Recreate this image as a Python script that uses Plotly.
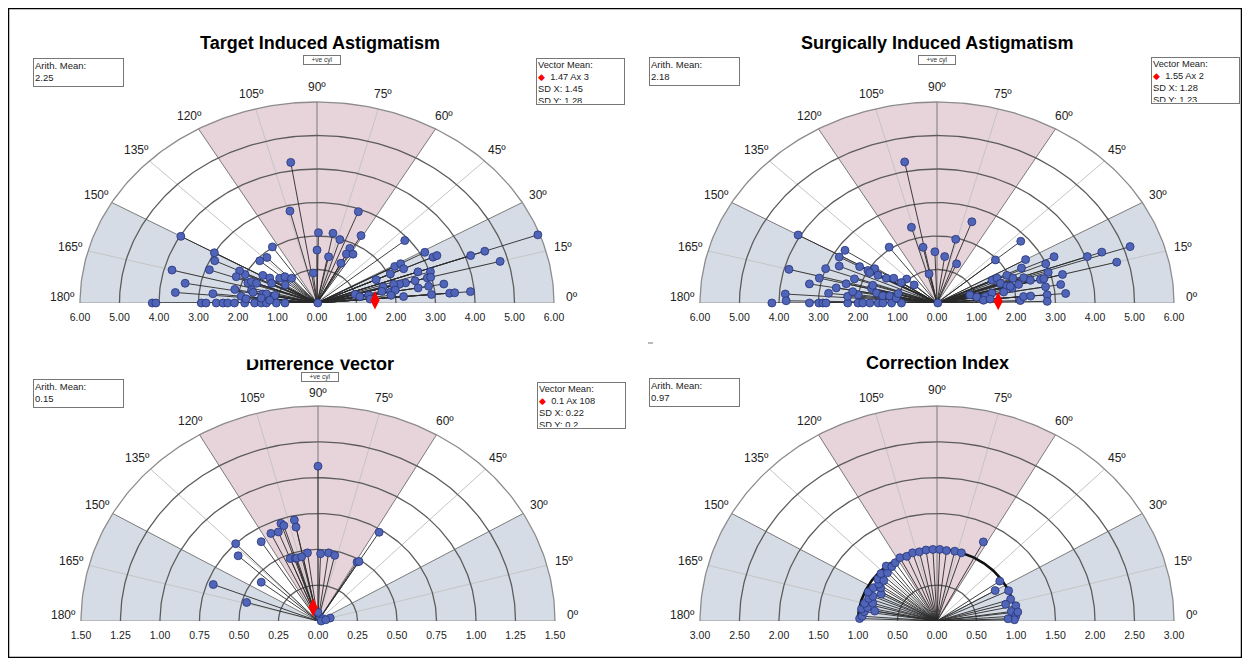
import numpy as np
import plotly.graph_objects as go

# page is 1250x666; the browser body has an 8px margin, so the figure is 1234x650
OFF = 8
FW, FH = 1234, 650

# ---------------- data ----------------
titles = ["Target Induced Astigmatism", "Surgically Induced Astigmatism",
          "Difference Vector", "Correction Index"]
arith_means = ["2.25", "2.18", "0.15", "0.97"]
vec_mean_text = ["1.47 Ax 3", "1.55 Ax 2", "0.1 Ax 108", None]
sd_x_text = ["1.45", "1.28", "0.22", None]
sd_y_text = ["1.28", "1.23", "0.2", None]
vm_mag = [1.47, 1.55, 0.1, None]
vm_axis = [3, 2, 108, None]

angle_vals = [0, 15, 30, 45, 60, 75, 90, 105, 120, 135, 150, 165, 180]
angle_text = ["0º", "15º", "30º", "45º", "60º", "75º", "90º", "105º", "120º",
              "135º", "150º", "165º", "180º"]

ticks_6 = [-6, -5, -4, -3, -2, -1, 0, 1, 2, 3, 4, 5, 6]
labels_6 = ["6.00", "5.00", "4.00", "3.00", "2.00", "1.00", "0.00",
            "1.00", "2.00", "3.00", "4.00", "5.00", "6.00"]
ticks_15 = [-1.5, -1.25, -1.0, -0.75, -0.5, -0.25, 0, 0.25, 0.5, 0.75, 1.0, 1.25, 1.5]
labels_15 = ["1.50", "1.25", "1.00", "0.75", "0.50", "0.25", "0.00",
             "0.25", "0.50", "0.75", "1.00", "1.25", "1.50"]
ticks_3 = [-3, -2.5, -2, -1.5, -1, -0.5, 0, 0.5, 1, 1.5, 2, 2.5, 3]
labels_3 = ["3.00", "2.50", "2.00", "1.50", "1.00", "0.50", "0.00",
            "0.50", "1.00", "1.50", "2.00", "2.50", "3.00"]

# Target induced astigmatism: magnitude (D) and axis (deg)
tia_mag = [4.25, 2.83, 2.10, 1.58, 0.90, 2.02, 3.98, 3.00, 2.88, 2.90, 3.80, 3.39, 3.60,
           4.17, 4.08, 2.93, 2.81, 2.55, 2.38, 2.26, 2.09, 1.83, 1.58, 1.41, 1.28, 1.03,
           0.81, 2.01, 2.18, 2.19, 2.12, 2.65, 1.92, 1.86, 1.85, 1.78, 1.64, 1.60, 1.41,
           1.20, 1.13, 0.98, 0.97, 1.29, 1.70, 1.65, 1.40, 1.31, 1.09, 1.93, 1.80, 1.42,
           1.20,
           2.92, 2.12, 1.98, 2.30, 1.41, 1.83, 1.64, 1.72, 1.33, 2.90, 2.25, 2.42, 2.42,
           2.05, 3.12, 3.24, 3.35, 4.14, 4.52, 5.95, 4.80, 2.72, 3.02, 2.89, 2.98, 2.57,
           2.32, 2.16, 2.02, 1.65, 1.74, 1.89, 2.02, 2.60, 2.87, 3.26, 2.91, 3.37, 3.50,
           3.90, 1.00, 1.10, 1.33, 1.35, 1.68, 1.89, 2.20, 0.02]
tia_axis = [99, 104, 89, 90, 96, 124, 150, 150, 154, 160, 165, 170, 175,
            180, 180, 180, 180, 180, 180, 180, 180, 180, 180, 180, 180, 180,
            180, 155, 154, 159, 169, 174, 139, 133, 161, 159, 159, 149, 148,
            142, 136, 131, 146, 153, 167, 169, 169, 168, 168, 174, 176, 174,
            176,
            69, 79, 73, 61, 78, 63, 63, 58, 63, 40, 29, 29, 25,
            25, 29, 25, 25, 20, 20, 20, 15, 20, 18, 15, 15, 15,
            15, 15, 16, 25, 16, 10, 11, 10, 10, 10, 5, 5, 5,
            5, 15, 10, 10, 5, 12, 7, 5, 0]

# Surgically induced astigmatism
sia_mag = [4.29, 2.35, 1.70, 1.53, 0.89, 2.06, 4.06, 2.81, 2.83, 2.71, 2.24, 2.00, 1.88,
           1.93, 1.71, 3.88, 3.00, 3.07, 3.28, 3.85, 3.82, 4.18, 3.23, 2.99, 2.89, 2.81,
           2.26, 2.00, 1.88, 1.70, 1.49, 1.37, 1.15, 0.90, 2.76, 2.59, 2.37, 2.21, 2.27,
           2.01, 2.16, 1.72, 1.71, 1.56, 1.39, 1.22, 1.04, 1.48, 1.32, 1.05, 1.09, 0.79,
           1.02,
           2.58, 1.96, 1.40, 1.27, 2.81, 1.96, 2.59, 3.27, 2.99, 4.05, 4.44, 5.17, 4.71,
           2.38, 2.96, 3.29, 1.95, 2.06, 2.32, 2.46, 2.71, 2.80, 1.55, 1.69, 1.71, 1.84,
           1.95, 2.14, 2.79, 3.18, 3.27, 2.80, 2.79, 0.87, 1.02, 1.24, 1.18, 1.42, 1.35,
           1.72, 1.92, 2.11, 2.20, 2.38, 0.02]
sia_axis = [101, 106, 102, 92, 103, 126, 150, 146, 151, 156, 151, 151, 147,
            152, 151, 165, 160, 166, 170, 176, 179, 180, 180, 180, 180, 180,
            180, 180, 180, 180, 180, 180, 180, 180, 174, 170, 166, 161, 175,
            173, 171, 165, 162, 169, 171, 170, 172, 150, 146, 137, 146, 137,
            164,
            70, 76, 82, 67, 41, 41, 30, 25, 23, 20, 20, 19, 15,
            26, 18, 15, 25, 21, 19, 16, 15, 15, 26, 26, 20, 16,
            13, 15, 10, 10, 5, 5, 1, 16, 10, 9, 4, 12, 5,
            11, 15, 2, 5, 5, 0]

# Difference vector
dv_mag = [1.08, 0.72, 0.72, 0.70, 0.67, 0.68, 0.67, 0.75, 0.66, 0.68, 0.48, 0.47, 0.46,
          0.46, 0.46, 0.47, 0.48, 0.47, 0.73, 0.48, 0.49, 0.45, 0.71, 0.47, 0.025, 0.035,
          0.08, 0.06, 0.02, 0.05]
dv_axis = [90, 102, 109, 108, 102, 116, 112, 134, 123, 138, 98, 112, 108,
           107, 103, 88, 82, 77, 58, 59, 58, 143, 159, 164, 60, 27,
           15, 90, 0, 10]

# Correction index
ci_mag = [0.98, 0.95, 0.93, 0.97, 0.90, 0.95, 0.85, 0.92, 0.88, 0.96, 0.80, 0.93, 0.85,
          0.90, 0.95, 0.88, 0.97, 0.92, 1.00, 0.95, 0.97, 1.00, 0.98, 1.00, 0.99, 1.00,
          1.00, 1.00, 0.99, 1.00, 1.00, 1.25, 0.97, 1.00, 0.98, 1.02, 0.95, 1.00, 0.98,
          0.90, 1.03, 0.85, 0.90, 0.80]
ci_axis = [178, 176, 172, 170, 168, 165, 163, 160, 157, 155, 152, 150, 147,
           145, 142, 140, 137, 133, 130, 127, 123, 118, 113, 108, 103, 98,
           93, 88, 83, 77, 72, 62, 35, 25, 18, 12, 8, 4, 1,
           2, 7, 30, 15, 170]

# ---------------- layout (page pixel coordinates) ----------------
panels = [
    dict(mag=tia_mag, axis=tia_axis, R=6.0, ticks=ticks_6, labels=labels_6, cx=317, cy=303, vr=201),
    dict(mag=sia_mag, axis=sia_axis, R=6.0, ticks=ticks_6, labels=labels_6, cx=937, cy=303, vr=201),
    dict(mag=dv_mag, axis=dv_axis, R=1.5, ticks=ticks_15, labels=labels_15, cx=318, cy=621, vr=215),
    dict(mag=ci_mag, axis=ci_axis, R=3.0, ticks=ticks_3, labels=labels_3, cx=937, cy=621, vr=215),
]
title_pos = [(320, 43), (937, 43), (320, 364), (937, 363)]
arith_box = [(33, 58), (649, 57), (33, 379), (649, 378)]
vec_box = [(536, 58), (1151, 57), (537, 382), None]
cyl_box = [(322, 60), (937, 60), (320, 377), None]

PINK = "#e7d3da"
BLUE = "#d6dce6"
PTFILL = "#5064b8"
PTLINE = "#27357a"


def PX(px):
    return (px - OFF) / FW


def PY(py):
    return 1 - (py - OFF) / FH


fig = go.Figure()
layout = dict(width=FW, height=FH, margin=dict(l=0, r=0, t=0, b=0),
              paper_bgcolor="white", plot_bgcolor="rgba(0,0,0,0)",
              showlegend=False, font=dict(family="Liberation Sans, Arial, sans-serif"))
annotations = []
shapes = []


def arc(r, a0=0, a1=180, n=181):
    t = np.radians(np.linspace(a0, a1, n))
    return r * np.cos(t), r * np.sin(t)


for i, p in enumerate(panels, start=1):
    xa = "x" if i == 1 else f"x{i}"
    ya = "y" if i == 1 else f"y{i}"
    R = p["R"]
    cx, cy = p["cx"], p["cy"]
    sx = 237.0 / R
    sy = p["vr"] / R
    xr = 1.13 * R
    yr = 1.13 * R
    layout["xaxis" if i == 1 else f"xaxis{i}"] = dict(
        domain=[PX(cx - xr * sx), PX(cx + xr * sx)], range=[-xr, xr], anchor=ya,
        tickmode="array", tickvals=p["ticks"], ticktext=p["labels"], showgrid=False,
        zeroline=False, showline=False, ticks="", tickfont=dict(size=10.5, color="#222"),
        fixedrange=True, ticklabelstandoff=6)
    layout["yaxis" if i == 1 else f"yaxis{i}"] = dict(
        domain=[PY(cy), PY(cy - yr * sy)], range=[0, yr], anchor=xa,
        visible=False, fixedrange=True)

    def add(tr):
        tr.update(xaxis=xa, yaxis=ya, hoverinfo="skip")
        fig.add_trace(tr)

    # shaded sectors
    for (a0, a1, col) in [(60, 120, PINK), (0, 30, BLUE), (150, 180, BLUE)]:
        ax_, ay_ = arc(R, a0, a1, 61)
        add(go.Scatter(x=np.r_[0, ax_, 0], y=np.r_[0, ay_, 0], fill="toself",
                       fillcolor=col, mode="lines", line=dict(width=0)))
    # spokes
    for a in range(15, 180, 15):
        t = np.radians(a)
        col = "#7a7a7a" if a % 30 == 0 else "#c4c4c4"
        add(go.Scatter(x=[0, R * np.cos(t)], y=[0, R * np.sin(t)], mode="lines",
                       line=dict(color=col, width=1)))
    add(go.Scatter(x=[-R, R], y=[0, 0], mode="lines", line=dict(color="#999", width=1)))
    # rings
    step = R / 6
    for k in range(1, 7):
        rx, ry = arc(step * k)
        add(go.Scatter(x=rx, y=ry, mode="lines",
                       line=dict(color="#5c5c5c" if k < 6 else "#8c8c8c", width=1.3)))
    if i == 4:
        rx, ry = arc(1.0)
        add(go.Scatter(x=rx, y=ry, mode="lines", line=dict(color="#111", width=2.6)))

    mag = np.array(p["mag"], float)
    th = np.radians(np.array(p["axis"], float))
    px = mag * np.cos(th)
    py = mag * np.sin(th)
    lx, ly = [], []
    for a, b in zip(px, py):
        lx += [0, a, None]
        ly += [0, b, None]
    add(go.Scatter(x=lx, y=ly, mode="lines", line=dict(color="#2a2a2a", width=0.9)))
    add(go.Scatter(x=px, y=py, mode="markers", cliponaxis=False,
                   marker=dict(size=8, color=PTFILL, line=dict(color=PTLINE, width=0.8))))
    if vm_mag[i - 1] is not None:
        t = np.radians(vm_axis[i - 1])
        add(go.Scatter(x=[vm_mag[i - 1] * np.cos(t)], y=[vm_mag[i - 1] * np.sin(t)],
                       mode="markers", cliponaxis=False,
                       marker=dict(symbol="diamond-tall", size=13, color="#ff0000",
                                   line=dict(width=0))))

    # angle labels
    for a, txt in zip(angle_vals, angle_text):
        t = np.radians(a)
        rl = 1.075 * R
        ys = 6 if a in (0, 180) else 0
        if i == 3 and a == 90:
            ys = -3
        annotations.append(dict(x=rl * np.cos(t), y=rl * np.sin(t), xref=xa, yref=ya,
                                text=txt, showarrow=False, font=dict(size=12, color="#222"),
                                xanchor="center", yanchor="middle", yshift=ys))

    # title
    tx, ty = title_pos[i - 1]
    annotations.append(dict(x=PX(tx), y=PY(ty), xref="paper", yref="paper",
                            text=f"<b>{titles[i - 1]}</b>", showarrow=False,
                            font=dict(size=18, color="#000"), xanchor="center",
                            yanchor="middle"))
    if i == 3:
        # the top of this title is cut off in the original
        annotations.append(dict(x=PX(320), y=PY(360), xref="paper", yref="paper",
                                text=" ", showarrow=False, xanchor="center",
                                yanchor="bottom", width=170, height=14,
                                bgcolor="white", borderpad=0))
    # arith mean box
    bx, by = arith_box[i - 1]
    annotations.append(dict(x=PX(bx), y=PY(by), xref="paper", yref="paper",
                            text=f"Arith. Mean:<br>{arith_means[i - 1]}", showarrow=False,
                            font=dict(size=9.5, color="#222"), align="left",
                            xanchor="left", yanchor="top", width=87, height=25,
                            valign="top", bordercolor="#777", borderwidth=1, borderpad=1,
                            bgcolor="white"))
    if vec_box[i - 1] is not None:
        bx, by = vec_box[i - 1]
        annotations.append(dict(
            x=PX(bx), y=PY(by), xref="paper", yref="paper",
            text=(f"Vector Mean:<br><span style='color:#ff0000'>◆</span>&nbsp;&nbsp;"
                  f"{vec_mean_text[i - 1]}<br>SD X: {sd_x_text[i - 1]}<br>"
                  f"SD Y: {sd_y_text[i - 1]}"),
            showarrow=False, font=dict(size=9.3, color="#222"), align="left",
            xanchor="left", yanchor="top", width=85, height=43, valign="top",
            bordercolor="#777", borderwidth=1, borderpad=1, bgcolor="white"))
    if cyl_box[i - 1] is not None:
        bx, by = cyl_box[i - 1]
        annotations.append(dict(x=PX(bx), y=PY(by), xref="paper", yref="paper",
                                text="+ve cyl", showarrow=False,
                                font=dict(size=6.5, color="#333"), xanchor="center",
                                yanchor="middle", width=36, height=8,
                                bordercolor="#777", borderwidth=1, borderpad=0,
                                bgcolor="white"))

# outer frame and a stray mark
shapes.append(dict(type="rect", xref="paper", yref="paper", x0=PX(8.5), x1=PX(1241.5),
                   y0=PY(657.5), y1=PY(8.5), line=dict(color="#000", width=1.5)))
shapes.append(dict(type="line", xref="paper", yref="paper", x0=PX(648), x1=PX(653),
                   y0=PY(343), y1=PY(343), line=dict(color="#777", width=1)))

layout["annotations"] = annotations
layout["shapes"] = shapes
fig.update_layout(**layout)
fig.write_html("out.html")
